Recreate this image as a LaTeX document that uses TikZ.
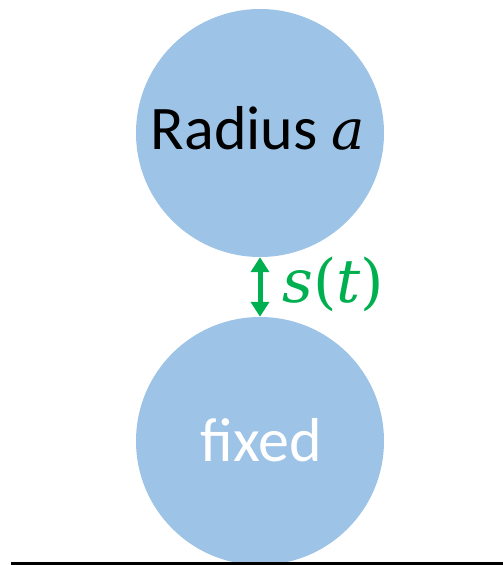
\documentclass[tikz,border=0pt]{standalone}
\usepackage{fontspec}
\setmainfont{Carlito}
\newfontfamily\mathserif{DejaVu Serif}
\usetikzlibrary{arrows.meta}
\definecolor{ballblue}{RGB}{157,195,230}
\definecolor{gapgreen}{RGB}{0,176,80}
\begin{document}
\begin{tikzpicture}[x=1pt,y=-1pt,
  ball/.style={circle,fill=ballblue,draw=none,minimum size=248pt,inner sep=0pt},
  lbl/.style={font=\fontsize{62}{66}\selectfont}]
\useasboundingbox (0,0) rectangle (503,565);
\node[ball] (top) at (260,133) {};
\node[ball] (bot) at (260,441) {};
\node[lbl,text=black] (ta) at (258,128) {Radius {\mathserif\itshape\fontsize{56}{60}\selectfont a}};
\node[lbl,text=white] (tb) at (261,440) {fixed};
\draw[gapgreen,line width=5pt,{Triangle[width=18pt,length=15pt]}-{Triangle[width=18pt,length=15pt]}] (top.south) -- (bot.north);
\node[text=gapgreen,anchor=west,font=\mathserif\fontsize{60}{66}\selectfont] (st) at (279,284) {\itshape s\upshape(\itshape t\upshape)};
\coordinate (gl) at (11,563.5);
\coordinate (gr) at (503,563.5);
\draw[black,line width=2.5pt] (gl) -- (gr);
\end{tikzpicture}
\end{document}
